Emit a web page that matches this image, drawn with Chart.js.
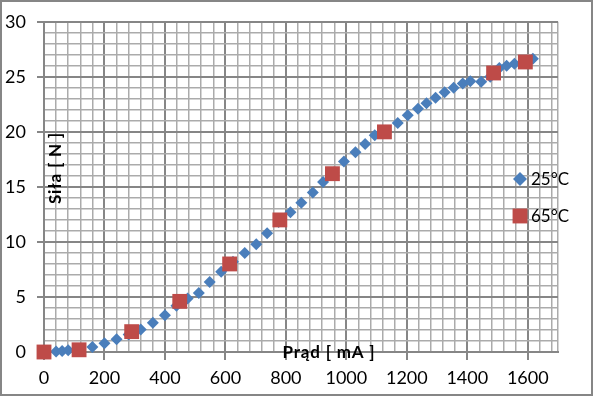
<!DOCTYPE html>
<html>
<head>
<meta charset="utf-8">
<script src="https://cdn.jsdelivr.net/npm/chart.js@4.4.0/dist/chart.umd.min.js"></script>
<style>
  html, body { margin: 0; padding: 0; background: #fff; }
  #wrap { width: 593px; height: 396px; }
</style>
</head>
<body>
<div id="wrap"><canvas id="wykres" width="593" height="396"></canvas></div>
<script>
// pomiary 25°C
const prad25 = [40, 60, 80, 160, 200, 240, 280, 320, 360, 400, 438, 475, 512, 548, 586, 625, 664, 702, 738, 776,
  815, 851, 889, 923, 957, 992, 1030, 1062, 1094, 1130, 1170, 1203, 1237, 1265, 1295, 1325, 1355, 1385, 1410, 1446,
  1476, 1506, 1530, 1556, 1585, 1617];
const sila25 = [0.05, 0.1, 0.15, 0.45, 0.8, 1.15, 1.6, 2.05, 2.65, 3.35, 4.2, 4.85, 5.35, 6.35, 7.3, 8.2, 9.0, 9.8, 10.8, 11.8,
  12.7, 13.55, 14.5, 15.45, 16.3, 17.3, 18.15, 18.9, 19.7, 20.1, 20.8, 21.5, 22.1, 22.6, 23.1, 23.6, 24.0, 24.4, 24.6, 24.55,
  25.0, 25.8, 26.0, 26.2, 26.4, 26.65];

// pomiary 65°C
const prad65 = [0, 116, 290, 449, 614, 780, 954, 1126, 1487, 1592];
const sila65 = [0, 0.2, 1.85, 4.6, 8.0, 12.0, 16.2, 20.0, 25.35, 26.35];

const serie = ['25°C', '65°C'];
const xEtykiety = [0, 200, 400, 600, 800, 1000, 1200, 1400, 1600];
const yEtykiety = [0, 5, 10, 15, 20, 25, 30];
const xMax = 1700, xKrok = 40;
const yMax = 30, yKrok = 1;

const kolory = ['#4A7EBB', '#BE4B48'];
const siatkaGlowna = '#868686';
const siatkaPomocnicza = '#ABABAB';

Chart.defaults.font.family = 'Lato';
Chart.defaults.font.size = 18;
Chart.defaults.color = '#000';

function punkty(xs, ys) {
  return xs.map((x, i) => ({ x: x, y: ys[i] }));
}

// tytuly osi i legenda rysowane wewnatrz obszaru wykresu
const dodatki = {
  id: 'dodatki',
  afterDraw(chart) {
    const c = chart.ctx;
    c.save();
    c.fillStyle = '#000';
    c.font = 'bold 17px Lato';
    c.letterSpacing = '0.8px';
    c.textAlign = 'center';
    c.textBaseline = 'middle';
    c.fillText('Prąd [ mA ]', 329, 353);
    c.save();
    c.translate(56, 168);
    c.rotate(-Math.PI / 2);
    c.fillText('Siła [ N ]', 0, 0);
    c.restore();
    c.letterSpacing = '0px';

    // legenda
    const style = [{ pointStyle: 'rectRot', radius: 7 }, { pointStyle: 'rect', radius: 10.5 }];
    const pozY = [179, 216];
    c.font = '17px Lato';
    c.textAlign = 'left';
    serie.forEach((nazwa, i) => {
      c.fillStyle = kolory[i];
      Chart.helpers.drawPoint(c, { pointStyle: style[i].pointStyle, radius: style[i].radius, rotation: 0, borderWidth: 0 }, 520, pozY[i]);
      c.fillStyle = '#000';
      c.fillText(nazwa, 531, pozY[i] + 1);
    });

    // ramka
    c.strokeStyle = '#868686';
    c.lineWidth = 2;
    c.strokeRect(1, 1, 591, 394);
    c.restore();
  }
};

new Chart(document.getElementById('wykres'), {
  type: 'scatter',
  data: {
    datasets: [
      {
        label: serie[0],
        data: punkty(prad25, sila25),
        pointStyle: 'rectRot',
        pointRadius: 6,
        backgroundColor: kolory[0],
        borderWidth: 0,
        clip: false,
        order: 1
      },
      {
        label: serie[1],
        data: punkty(prad65, sila65),
        pointStyle: 'rect',
        pointRadius: 10.5,
        backgroundColor: kolory[1],
        borderWidth: 0,
        clip: false,
        order: 0
      }
    ]
  },
  options: {
    responsive: false,
    animation: false,
    devicePixelRatio: 1,
    layout: { padding: { left: 0, top: 14, right: 35, bottom: 0 } },
    plugins: {
      legend: { display: false },
      tooltip: { enabled: false }
    },
    scales: {
      x: {
        type: 'linear',
        min: 0,
        max: xMax,
        afterBuildTicks: s => {
          const t = [];
          for (let v = 0; v < xMax; v += xKrok) t.push({ value: v });
          t.push({ value: xMax });
          s.ticks = t;
        },
        afterFit: s => { s.height = 44; },
        ticks: {
          autoSkip: false,
          maxRotation: 0,
          padding: 7,
          callback: v => xEtykiety.includes(v) ? String(v) : ''
        },
        grid: {
          color: c => xEtykiety.includes(c.tick.value) ? siatkaGlowna : siatkaPomocnicza,
          lineWidth: c => xEtykiety.includes(c.tick.value) ? 2 : 1.5,
          tickColor: c => xEtykiety.includes(c.tick.value) ? siatkaGlowna : 'rgba(0,0,0,0)',
          tickLength: 8
        },
        border: { color: siatkaGlowna, width: 2 }
      },
      y: {
        type: 'linear',
        min: 0,
        max: yMax,
        afterBuildTicks: s => {
          const t = [];
          for (let v = 0; v <= yMax; v += yKrok) t.push({ value: v });
          s.ticks = t;
        },
        afterFit: s => { s.width = 44; },
        ticks: {
          autoSkip: false,
          padding: 11,
          callback: v => yEtykiety.includes(v) ? String(v) : ''
        },
        grid: {
          color: c => yEtykiety.includes(c.tick.value) ? siatkaGlowna : siatkaPomocnicza,
          lineWidth: c => yEtykiety.includes(c.tick.value) ? 2 : 1.5,
          tickColor: c => yEtykiety.includes(c.tick.value) ? siatkaGlowna : 'rgba(0,0,0,0)',
          tickLength: 7
        },
        border: { color: siatkaGlowna, width: 2 }
      }
    }
  },
  plugins: [dodatki]
});
</script>
</body>
</html>
